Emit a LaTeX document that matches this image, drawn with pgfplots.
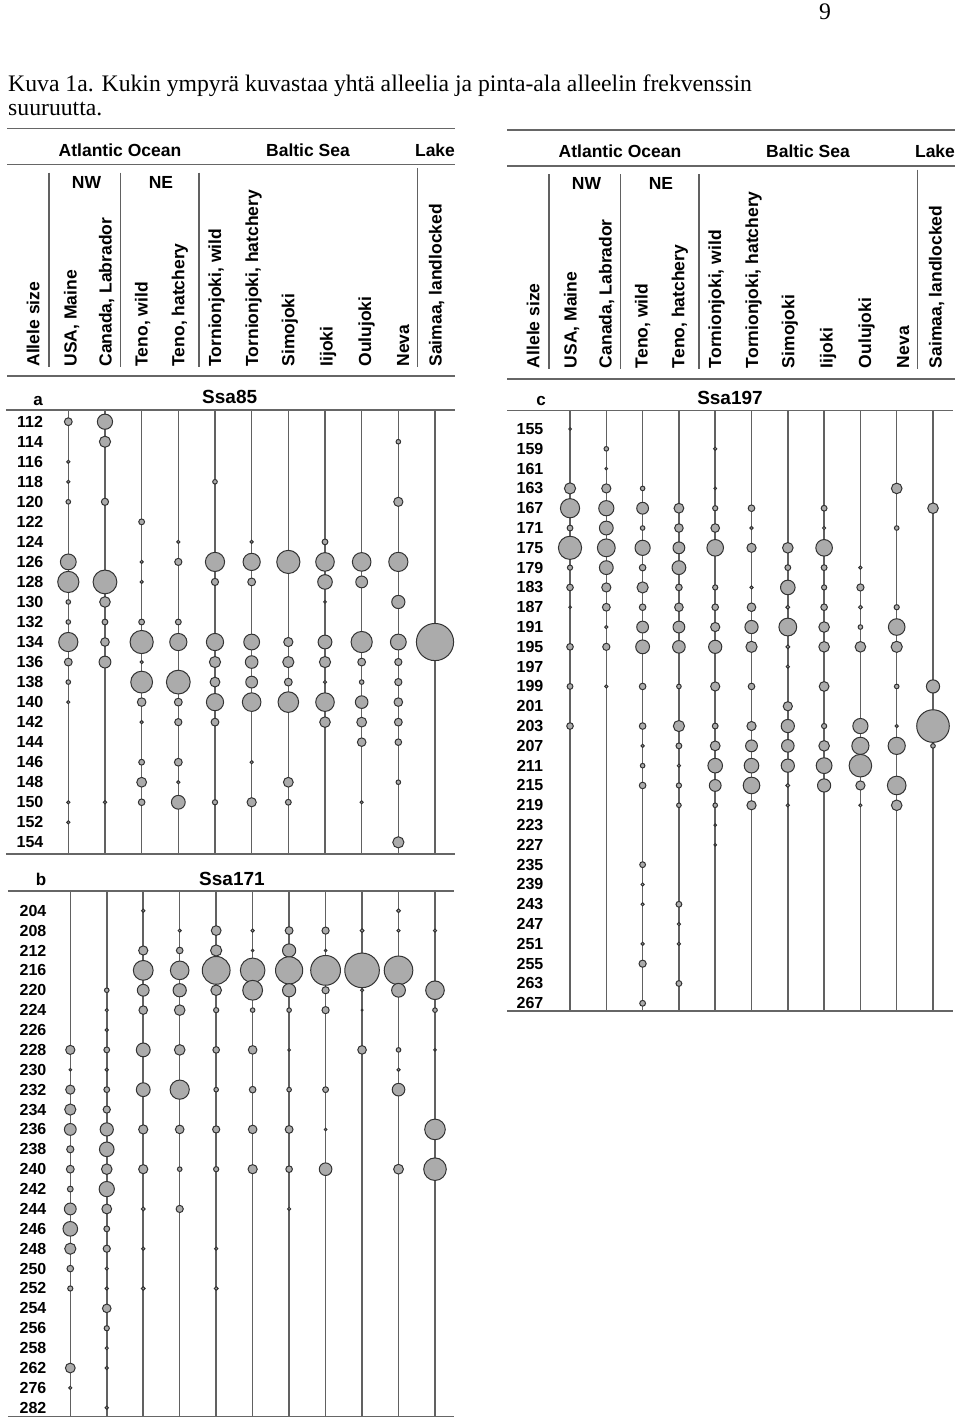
\documentclass[border=0pt]{standalone}
\usepackage{fontspec}
\setmainfont{Liberation Sans}
\newfontfamily\tnr{Liberation Serif}
\usepackage{pgfplots}
\usepackage{pgfplotstable}
\pgfplotsset{compat=1.18}

% bubble data: column (1..11), row index, radius (px)
\pgfplotstableread{
x y r
1 0 4.3
2 0 8
2 1 6
10 1 2.7
1 2 2
1 3 2
5 3 2.7
1 4 2.7
2 4 4
10 4 5
3 5 3.3
4 6 2
6 6 2
8 6 3.3
1 7 8.3
3 7 2
4 7 4
5 7 10
6 7 9
7 7 12
8 7 9.7
9 7 9.7
10 7 10
1 8 11
2 8 12.3
3 8 2
5 8 4
6 8 4.3
8 8 7.7
9 8 6.3
1 9 2.7
2 9 5.7
8 9 1.7
10 9 7
1 10 2.7
2 10 3.3
3 10 3.3
4 10 3.3
1 11 10
2 11 4.7
3 11 12
4 11 9
5 11 9
6 11 8.3
7 11 5
8 11 7.3
9 11 11
10 11 8.3
11 11 19
1 12 4.3
2 12 6.3
3 12 2
5 12 6
6 12 6.7
7 12 6
8 12 6
9 12 4.3
10 12 4
1 13 2.7
3 13 11.3
4 13 12.3
5 13 5.3
6 13 6.3
7 13 4.3
8 13 2
9 13 2.7
10 13 4
1 14 2
3 14 4.7
4 14 4.3
5 14 9
6 14 9.7
7 14 10.7
8 14 9.7
9 14 6.7
10 14 4.7
3 15 2
4 15 4
5 15 4.3
8 15 5.7
9 15 5.3
10 15 4.3
9 16 4.7
10 16 3.7
3 17 3.3
4 17 4.3
6 17 2
3 18 5.3
4 18 2
7 18 5.3
10 18 2.7
1 19 2
2 19 2
3 19 3.7
4 19 7.3
5 19 3
6 19 5
7 19 3.3
9 19 2
1 20 2
10 21 6
}\tabA

\pgfplotstableread{
x y r
3 0 2
10 0 2.3
4 1 2
5 1 5.3
6 1 2
7 1 4.3
8 1 4
9 1 2.3
10 1 2
11 1 2
3 2 5
4 2 3.7
5 2 6
6 2 1.7
7 2 7
8 2 1.7
3 3 10.3
4 3 9.7
5 3 14.3
6 3 12.7
7 3 14
8 3 15.3
9 3 17.7
10 3 14.7
2 4 2.7
3 4 6.3
4 4 7
5 4 5.7
6 4 10.3
7 4 7
8 4 4
9 4 2
10 4 7.3
11 4 9.7
2 5 2
3 5 4.7
4 5 5.7
5 5 3
6 5 2.7
7 5 2.7
8 5 4
9 5 1.3
11 5 2.7
2 6 2
1 7 5
2 7 3.3
3 7 7.3
4 7 5.7
5 7 3.7
6 7 4.7
7 7 1.7
9 7 4.7
10 7 2.7
11 7 1.7
1 8 1.7
2 8 2
10 8 2
1 9 5
2 9 3.3
3 9 7.3
4 9 10
5 9 2.7
6 9 3.7
7 9 2.7
8 9 3.3
10 9 6.7
1 10 6
2 10 4
1 11 6.3
2 11 7
3 11 5
4 11 4.7
5 11 4
6 11 4.7
7 11 4.3
8 11 1.7
11 11 10.7
1 12 4
2 12 7.7
1 13 4.3
2 13 5.7
3 13 5
4 13 2.7
5 13 3
6 13 5
7 13 3.7
8 13 6.7
10 13 5.3
11 13 11.7
1 14 3.3
2 14 8
1 15 6.3
2 15 5.3
3 15 2.3
4 15 4
7 15 2
1 16 7.7
2 16 3.3
1 17 6
2 17 4
3 17 2
5 17 2
1 18 3.7
2 18 2
1 19 3
2 19 2
3 19 2.3
5 19 2.3
2 20 4.7
2 21 3
2 22 2
1 23 5.3
2 23 2
1 24 2
2 25 2
}\tabB

\pgfplotstableread{
x y r
1 0 1.7
2 1 2.7
5 1 2
2 2 1.7
1 3 6
2 3 5
3 3 2.7
5 3 1.7
10 3 5.7
1 4 10
2 4 8
3 4 6.3
4 4 5.3
5 4 3
6 4 3.7
8 4 3.3
11 4 5.7
1 5 3.3
2 5 7.3
3 5 2.7
4 5 4.7
5 5 4.7
6 5 2
8 5 2
10 5 2.7
1 6 12
2 6 9.3
3 6 8
4 6 6.3
5 6 8.7
6 6 5
7 6 5.7
8 6 8.7
1 7 3
2 7 7.3
3 7 3.7
4 7 7.3
7 7 3.3
8 7 3.3
9 7 2
1 8 3.7
2 8 5
3 8 6
4 8 3.7
5 8 3
6 8 2
7 8 7.7
8 8 3
9 8 4
1 9 1.7
2 9 4.3
3 9 3.7
4 9 4.7
5 9 3.7
6 9 4.7
7 9 2.3
8 9 3.7
9 9 2.3
10 9 3
2 10 2
3 10 6.3
4 10 6.3
5 10 5
6 10 7
7 10 9.3
8 10 5.7
9 10 2.7
10 10 8.7
1 11 3.7
2 11 4
3 11 7.3
4 11 6.7
5 11 7
6 11 6
7 11 2.3
8 11 5.7
9 11 5.7
10 11 6
7 12 2
1 13 3.3
2 13 2
3 13 3.7
4 13 2.7
5 13 5
6 13 3.7
8 13 5.3
10 13 2.7
11 13 7
7 14 5
1 15 3.7
3 15 3.7
4 15 6
5 15 3.3
6 15 5
7 15 7
8 15 3
9 15 8
10 15 2
11 15 16.7
3 16 2
4 16 3.3
5 16 5.3
6 16 6.3
7 16 6.7
8 16 5.7
9 16 9
10 16 9
11 16 2.7
3 17 2.7
4 17 2
5 17 7.7
6 17 7.7
7 17 7
8 17 8.3
9 17 11.7
3 18 3.7
4 18 3
5 18 6.3
6 18 8.7
7 18 2.3
8 18 7
9 18 5
10 18 9.7
4 19 2.7
5 19 2.7
6 19 5
7 19 2
9 19 2
10 19 5.7
5 20 1.7
5 21 1.7
3 22 3.3
3 23 2
3 24 2
4 24 3.3
4 25 2
3 26 2
4 26 2
3 27 4
4 28 3.3
3 29 3.3
}\tabC

\pgfplotsset{
  bub/.style={
    scale only axis, anchor=south west, y dir=reverse, clip=false,
    separate axis lines,
    x axis line style={draw=black!60, line width=1.5pt},
    y axis line style={draw=none},
    xtick={1,...,11}, xticklabel=\empty,
    xmajorgrids, grid style={black!62, line width=1.5pt},
    major tick length=0pt,
    yticklabel style={font=\bfseries\fontsize{16}{16}\selectfont, anchor=center, inner sep=0pt},
  },
}
\newcommand\bubbles[1]{%
  \addplot[scatter, only marks, mark=*,
    scatter/use mapped color={draw=black!80, fill=black!33},
    visualization depends on={\thisrow{r}-0.4\as\rr},
    scatter/@pre marker code/.append style={/tikz/mark size=\rr},
    mark options={line width=1pt}] table[x=x, y=y] {#1};}

\tikzset{hd/.style={font=\bfseries\fontsize{17.5}{17.5}\selectfont, inner sep=0pt}}
\newcommand\header[2]{%
\begin{scope}[shift={(#1,-#2)}]
  \draw[black!60, line width=1.5pt] (7,-128.3) -- (455,-128.3) (7,-164.3) -- (455,-164.3);
  \draw[black!60, line width=1.5pt] (7,-376-#2) -- (455,-376-#2);
  \draw[black!62, line width=1.3pt] (49,-172.7) -- (49,-367) (120.7,-172.7) -- (120.7,-367)
    (199,-172.7) -- (199,-367) (417.7,-168) -- (417.7,-367);
  \node[hd, anchor=base] at (120,-156) {Atlantic Ocean};
  \node[hd, anchor=base] at (308,-156) {Baltic Sea};
  \node[hd, anchor=base] at (435,-156) {Lake};
  \node[hd, anchor=base] at (86.5,-188.3) {NW};
  \node[hd, anchor=base] at (161,-188.3) {NE};
  \foreach \cx/\lab in {33.3/{Allele size}, 70.5/{USA, Maine}, 105.5/{Canada, Labrador},
      141.7/{Teno, wild}, 178.3/{Teno, hatchery}, 215/{Tornionjoki, wild},
      252/{Tornionjoki, hatchery}, 288.3/{Simojoki}, 326.7/{Iijoki}, 365/{Oulujoki},
      403/{Neva}, 435.5/{Saimaa, landlocked}}
    \node[hd, rotate=90, anchor=base west] at (\cx+6,-366.7) {\lab};
\end{scope}}

\begin{document}
\begin{tikzpicture}[x=1pt, y=1pt]
\useasboundingbox (0,0) rectangle (960,-1419);

\node[font=\tnr\fontsize{23.7}{23.7}\selectfont, anchor=base, inner sep=0pt] at (825,-19.8) {9};
\node[font=\tnr\fontsize{23.7}{23.7}\selectfont, anchor=base west, inner sep=0pt] at (8,-91.7)
  {Kuva 1a. Kukin ympyrä kuvastaa yhtä alleelia ja pinta-ala alleelin frekvenssin};
\node[font=\tnr\fontsize{23.7}{23.7}\selectfont, anchor=base west, inner sep=0pt] at (8,-115)
  {suuruutta.};

\header{0}{0}
\header{500}{1.5}

% a: Ssa85
\begin{axis}[bub, at={(6pt,-854pt)}, width=449pt, height=444pt,
  xmin=-0.699, xmax=11.545, ymin=-0.584, ymax=21.584,
  ytick={0,...,21},
  yticklabels={112,114,116,118,120,122,124,126,128,130,132,134,136,138,140,142,144,146,148,150,152,154},
  yticklabel style={xshift=24pt}]
\bubbles{\tabA}
\end{axis}

% b: Ssa171
\begin{axis}[bub, at={(8pt,-1416.7pt)}, width=446pt, height=525.7pt,
  xmin=-0.708, xmax=11.521, ymin=-0.991, ymax=25.45,
  ytick={0,...,25},
  yticklabels={204,208,212,216,220,224,226,228,230,232,234,236,238,240,242,244,246,248,250,252,254,256,258,262,276,282},
  yticklabel style={xshift=25pt}]
\bubbles{\tabB}
\end{axis}

% c: Ssa197
\begin{axis}[bub, at={(507pt,-1011pt)}, width=446pt, height=600.3pt,
  xmin=-0.736, xmax=11.551, ymin=-0.924, ymax=29.39,
  ytick={0,...,29},
  yticklabels={155,159,161,163,167,171,175,179,183,187,191,195,197,199,201,203,207,211,215,219,223,227,235,239,243,247,251,255,263,267},
  yticklabel style={xshift=23pt}]
\bubbles{\tabC}
\end{axis}

\tikzset{pt/.style={font=\bfseries\fontsize{17}{17}\selectfont, anchor=base, inner sep=0pt},
         pn/.style={font=\bfseries\fontsize{19}{19}\selectfont, anchor=base, inner sep=0pt}}
\node[pt] at (38,-405) {a};
\node[pn] at (229.7,-403) {Ssa85};
\node[pt] at (41,-885) {b};
\node[pn] at (232,-885) {Ssa171};
\node[pt] at (541,-405) {c};
\node[pn] at (730,-404) {Ssa197};
\end{tikzpicture}
\end{document}
